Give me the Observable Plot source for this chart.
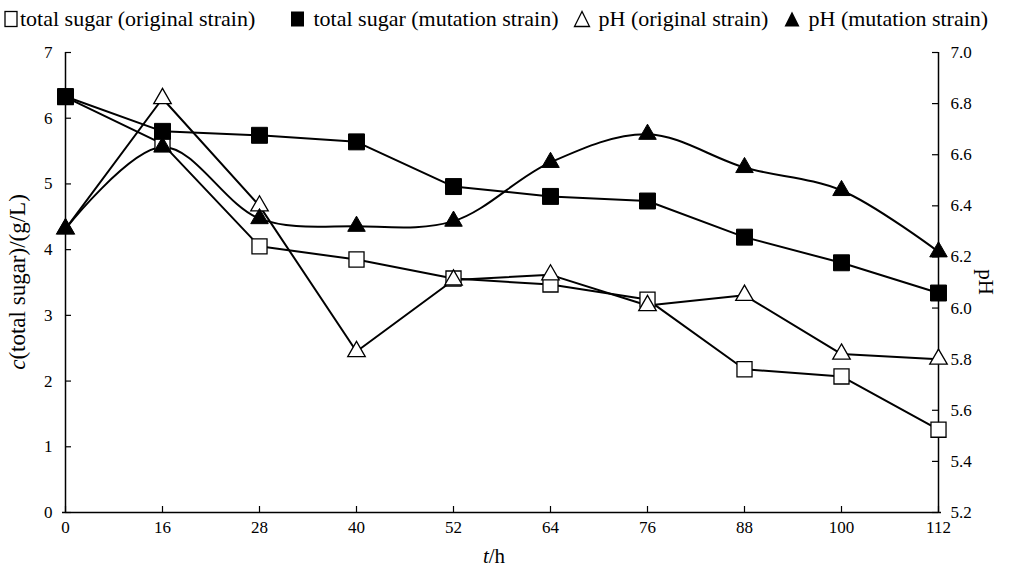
<!DOCTYPE html>
<html><head><meta charset="utf-8">
<script src="https://cdn.jsdelivr.net/npm/d3@7"></script>
<script src="https://cdn.jsdelivr.net/npm/@observablehq/plot@0.6"></script>
<style>
body{margin:0;background:#fff;font-family:"Liberation Serif","Times New Roman",serif;color:#000}
#wrap{position:relative;width:1010px;height:568px;overflow:hidden;background:#fff}
#legend{position:absolute;left:0;top:0;width:1010px;height:40px}
.item{position:absolute;top:7px;display:flex;align-items:center;font-size:22px;white-space:nowrap;line-height:24px}
.item svg{margin-right:2px}
#chart{position:absolute;left:0;top:40px}
#chart svg text, #chart svg tspan{font-family:"Liberation Serif","Times New Roman",serif !important}
#chart svg g[aria-label="y-axis tick label"] text, #chart svg g[aria-label="x-axis tick label"] text{font-size:17px}
#chart .ttl{font-size:21px}
#chart .ttl.big{font-size:23px}
</style></head>
<body><div id="wrap"><div id="legend"></div><div id="chart"></div></div>
<script>
// ---- data ----
const times = [0, 16, 28, 40, 52, 64, 76, 88, 100, 112];
const sugarOriginal = [6.32, 5.61, 4.05, 3.85, 3.56, 3.47, 3.24, 2.18, 2.07, 1.26];
const sugarMutation = [6.33, 5.80, 5.74, 5.64, 4.96, 4.81, 4.74, 4.19, 3.80, 3.34];
const pHOriginal = [6.31, 6.82, 6.40, 5.83, 6.11, 6.13, 6.01, 6.05, 5.82, 5.80];
const pHMutation = [6.31, 6.63, 6.35, 6.32, 6.34, 6.57, 6.68, 6.55, 6.46, 6.22];
const seriesNames = ["total sugar (original strain)", "total sugar (mutation strain)", "pH (original strain)", "pH (mutation strain)"];
const sugarTicks = [0, 1, 2, 3, 4, 5, 6, 7];
const pHTicks = [5.2, 5.4, 5.6, 5.8, 6.0, 6.2, 6.4, 6.6, 6.8, 7.0];

const pHMin = 5.2, pHMax = 7.0, sugarMax = 7;
const toLeft = p => (p - pHMin) / (pHMax - pHMin) * sugarMax;
const fromLeft = v => v / sugarMax * (pHMax - pHMin) + pHMin;

const rows = (vals, name, conv) => times.map((t, i) => ({t, v: conv(vals[i]), series: name}));
const dSO = rows(sugarOriginal, seriesNames[0], d => d);
const dSM = rows(sugarMutation, seriesNames[1], d => d);
const dPO = rows(pHOriginal, seriesNames[2], toLeft);
const dPM = rows(pHMutation, seriesNames[3], toLeft);

const first = times[0], last = times[times.length - 1];
const font = '"Liberation Serif","Times New Roman",serif';

const chart = Plot.plot({
  width: 1010, height: 528,
  marginLeft: 62, marginRight: 69, marginTop: 12, marginBottom: 56,
  style: {fontFamily: font, fontSize: "17px", color: "black", background: "white", overflow: "visible"},
  x: {type: "point", domain: times, padding: 0},
  y: {domain: [0, 7]},
  marks: [
    Plot.ruleX([first, last], {x: d => d, stroke: "black", strokeWidth: 1.5}),
    Plot.ruleY([0], {stroke: "black", strokeWidth: 1.5}),
    Plot.ruleY(sugarTicks, {y: d => d, x1: first, x2: first, insetRight: -6, stroke: "black", strokeWidth: 1.2}),
    Plot.ruleY(pHTicks.map(toLeft), {y: d => d, x1: last, x2: last, insetLeft: -6, stroke: "black", strokeWidth: 1.2}),
    Plot.ruleX(times, {x: d => d, y1: 0, y2: 0, insetTop: -6, stroke: "black", strokeWidth: 1.2}),
    Plot.axisY(sugarTicks, {anchor: "left", tickSize: 0, tickPadding: 10, label: null, fontSize: 17, tickFormat: d => String(d)}),
    Plot.axisY(pHTicks.map(toLeft), {anchor: "right", tickSize: 0, tickPadding: 9, label: null, fontSize: 17, tickFormat: d => fromLeft(d).toFixed(1)}),
    Plot.axisX(times, {anchor: "bottom", tickSize: 0, tickPadding: 8, label: null, fontSize: 17, tickFormat: d => String(d)}),
    Plot.line(dSO, {x: "t", y: "v", stroke: "black", strokeWidth: 2}),
    Plot.line(dSM, {x: "t", y: "v", stroke: "black", strokeWidth: 2}),
    Plot.line(dPO, {x: "t", y: "v", stroke: "black", strokeWidth: 2}),
    Plot.line(dPM, {x: "t", y: "v", stroke: "black", strokeWidth: 2, curve: "catmull-rom"}),
    Plot.dot(dSO, {x: "t", y: "v", symbol: "square", r: 8.5, fill: "white", stroke: "black", strokeWidth: 1.3}),
    Plot.dot(dPO, {x: "t", y: "v", symbol: "triangle", r: 6.5, fill: "white", stroke: "black", strokeWidth: 1.3}),
    Plot.dot(dSM, {x: "t", y: "v", symbol: "square", r: 9, fill: "black", stroke: "black", strokeWidth: 1}),
    Plot.dot(dPM, {x: "t", y: "v", symbol: "triangle", r: 6.5, fill: "black", stroke: "black", strokeWidth: 1})
  ]
});
document.getElementById("chart").appendChild(chart);

// axis titles
const svg = d3.select(chart);
const lt = svg.append("text").attr("class", "ttl big").attr("transform", "translate(25,242) rotate(-90)")
  .attr("text-anchor", "middle").attr("fill", "black");
lt.append("tspan").attr("font-style", "italic").text("c");
lt.append("tspan").text("(total sugar)/(g/L)");
svg.append("text").attr("class", "ttl").attr("transform", "translate(979,242) rotate(90)")
  .attr("text-anchor", "middle").attr("fill", "black").text("pH");
const bt = svg.append("text").attr("class", "ttl").attr("x", 494).attr("y", 523)
  .attr("text-anchor", "middle").attr("fill", "black");
bt.append("tspan").attr("font-style", "italic").text("t");
bt.append("tspan").text("/h");

// legend
const legendSymbols = [
  '<svg width="14" height="18"><rect x="1" y="1.5" width="12" height="15" fill="white" stroke="black" stroke-width="1.3"/></svg>',
  '<svg width="16" height="18"><rect x="1" y="1.5" width="13" height="15" fill="black"/></svg>',
  '<svg width="18" height="18"><polygon points="9,1.5 1.5,16.5 16.5,16.5" fill="white" stroke="black" stroke-width="1.3"/></svg>',
  '<svg width="18" height="18"><polygon points="9,1.5 1.5,16.5 16.5,16.5" fill="black"/></svg>'
];
const legendLeft = [4, 290, 573, 783];
const lg = document.getElementById("legend");
seriesNames.forEach((name, i) => {
  const el = document.createElement("div");
  el.className = "item";
  el.style.left = legendLeft[i] + "px";
  el.innerHTML = legendSymbols[i] + (i === 0 ? "" : "&nbsp;") + "<span></span>";
  el.querySelector("span").textContent = name;
  lg.appendChild(el);
});
</script>
</body></html>
